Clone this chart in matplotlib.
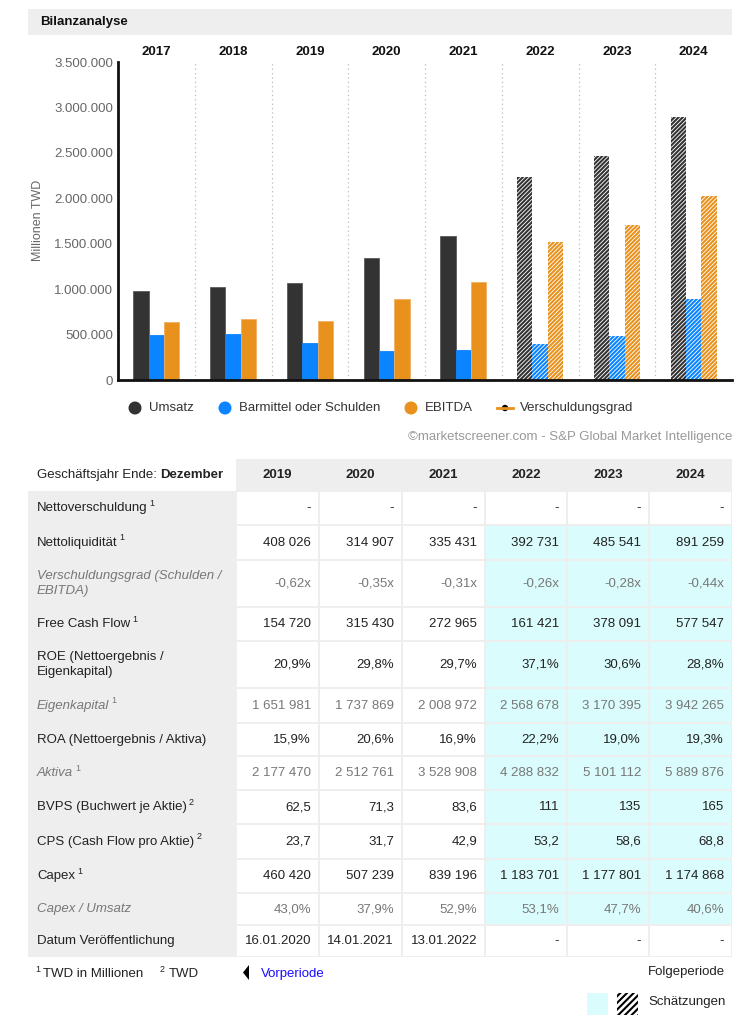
import matplotlib.pyplot as plt
from matplotlib.patches import Rectangle, Polygon, Circle
from matplotlib.lines import Line2D

plt.rcParams['font.family'] = ['Liberation Sans', 'DejaVu Sans']
plt.rcParams['hatch.linewidth'] = 1.5

# chart data (Millionen TWD)
years = ["2017", "2018", "2019", "2020", "2021", "2022", "2023", "2024"]
umsatz = [980000, 1020000, 1070000, 1339000, 1587000, 2229000, 2469000, 2894000]
barmittel = [490000, 503000, 408026, 314907, 335431, 392731, 485541, 891259]
ebitda = [635000, 671000, 650000, 891000, 1075000, 1515000, 1710000, 2030000]
estimate = [False, False, False, False, False, True, True, True]

# table data
tab_years = ["2019", "2020", "2021", "2022", "2023", "2024"]
tab_estimate = [False, False, False, True, True, True]
row_labels = ["Nettoverschuldung", "Nettoliquidität",
              "Verschuldungsgrad (Schulden /\nEBITDA)", "Free Cash Flow",
              "ROE (Nettoergebnis /\nEigenkapital)", "Eigenkapital",
              "ROA (Nettoergebnis / Aktiva)", "Aktiva",
              "BVPS (Buchwert je Aktie)", "CPS (Cash Flow pro Aktie)",
              "Capex", "Capex / Umsatz", "Datum Veröffentlichung"]
row_notes = ["1", "1", "", "1", "", "1", "", "1", "2", "2", "1", "", ""]
row_italic = [False, False, True, False, False, True, False, True, False, False, False, True, False]
row_values = [
    ["-", "-", "-", "-", "-", "-"],
    ["408 026", "314 907", "335 431", "392 731", "485 541", "891 259"],
    ["-0,62x", "-0,35x", "-0,31x", "-0,26x", "-0,28x", "-0,44x"],
    ["154 720", "315 430", "272 965", "161 421", "378 091", "577 547"],
    ["20,9%", "29,8%", "29,7%", "37,1%", "30,6%", "28,8%"],
    ["1 651 981", "1 737 869", "2 008 972", "2 568 678", "3 170 395", "3 942 265"],
    ["15,9%", "20,6%", "16,9%", "22,2%", "19,0%", "19,3%"],
    ["2 177 470", "2 512 761", "3 528 908", "4 288 832", "5 101 112", "5 889 876"],
    ["62,5", "71,3", "83,6", "111", "135", "165"],
    ["23,7", "31,7", "42,9", "53,2", "58,6", "68,8"],
    ["460 420", "507 239", "839 196", "1 183 701", "1 177 801", "1 174 868"],
    ["43,0%", "37,9%", "52,9%", "53,1%", "47,7%", "40,6%"],
    ["16.01.2020", "14.01.2021", "13.01.2022", "-", "-", "-"],
]
row_edges = [491, 525, 560, 607, 641, 688, 723, 756, 790, 824, 859, 893, 925, 957]
col_edges = [236, 319, 402, 485, 567, 649, 732]

DARK = "#333333"
BLUE = "#0a84ff"
ORANGE = "#e8911c"
CYAN = "#dafcfc"
GREY_BG = "#eeeeee"
FS = 9.5

W, H = 742, 1021
fig = plt.figure(figsize=(W / 100, H / 100), dpi=100)
bg = fig.add_axes([0, 0, 1, 1])
bg.set_xlim(0, W)
bg.set_ylim(H, 0)
bg.axis("off")
renderer = fig.canvas.get_renderer()

# title bar
bg.add_patch(Rectangle((28, 9), 704, 26, color=GREY_BG, lw=0))
bg.text(40, 22, "Bilanzanalyse", fontsize=FS, fontweight="bold", va="center", color="#111")

# bar chart
ax = fig.add_axes([118 / W, (H - 380) / H, 614 / W, 318 / H])
ax.set_zorder(2)
ax.patch.set_alpha(0)
x = list(range(len(years)))
bw = 0.2
for series, off, col, ec in [(umsatz, -bw, DARK, "#5a5a5a"),
                             (barmittel, 0, BLUE, BLUE),
                             (ebitda, bw, ORANGE, "#f0b060")]:
    for i, v in enumerate(series):
        if estimate[i]:
            ax.bar(x[i] + off, v, bw, facecolor="white", edgecolor=col,
                   hatch="////////", linewidth=0)
        else:
            ax.bar(x[i] + off, v, bw, color=col, edgecolor=ec, linewidth=0.6)
for i in range(len(years) - 1):
    ax.axvline(i + 0.5, color="#bbbbbb", lw=0.9, ls=(0, (1, 2.5)))
ax.set_xlim(-0.5, len(years) - 0.5)
ax.set_ylim(0, 3500000)
ax.set_yticks(range(0, 3500001, 500000))
ax.set_yticklabels([f"{v:,}".replace(",", ".") if v else "0" for v in range(0, 3500001, 500000)])
ax.xaxis.tick_top()
ax.set_xticks(x)
ax.set_xticklabels(years, fontweight="bold", fontsize=9.5, color="#111")
ax.tick_params(axis="x", length=0, pad=3)
ax.tick_params(axis="y", length=0, pad=3.5, labelsize=9.5, labelcolor="#666")
for s in ["top", "right"]:
    ax.spines[s].set_visible(False)
for s in ["left", "bottom"]:
    ax.spines[s].set_linewidth(2)
    ax.spines[s].set_color("#111")
bg.text(38, 220, "Millionen TWD", rotation=90, fontsize=9, color="#666",
        ha="center", va="center")

# legend
for cx, col, lab in [(135, DARK, "Umsatz"), (225, BLUE, "Barmittel oder Schulden"),
                     (411, ORANGE, "EBITDA")]:
    bg.add_patch(Circle((cx, 408), 6.5, color=col, lw=0))
    bg.text(cx + 14, 408, lab, fontsize=9.5, va="center", color="#333")
bg.add_line(Line2D([497, 513], [408, 408], color=ORANGE, lw=2))
bg.add_patch(Circle((505, 408), 3.2, color="black", lw=0))
bg.text(520, 408, "Verschuldungsgrad", fontsize=9.5, va="center", color="#333")
bg.text(732, 437, "©marketscreener.com - S&P Global Market Intelligence",
        fontsize=9.5, ha="right", va="center", color="#999")

# table header
bg.add_patch(Rectangle((236, 459), 496, 32, color=GREY_BG, lw=0))
t = bg.text(37, 475, "Geschäftsjahr Ende: ", fontsize=FS, va="center", color="#222")
x1 = t.get_window_extent(renderer).x1
bg.text(x1, 475, "Dezember", fontsize=FS, fontweight="bold", va="center", color="#222")
for j, yr in enumerate(tab_years):
    bg.text((col_edges[j] + col_edges[j + 1]) / 2, 475, yr, fontsize=FS,
            fontweight="bold", ha="center", va="center", color="#222")

# table body
bg.add_patch(Rectangle((28, row_edges[0]), 704, row_edges[-1] - row_edges[0], color=GREY_BG, lw=0))
for r, lab in enumerate(row_labels):
    y0, y1 = row_edges[r], row_edges[r + 1]
    yc = (y0 + y1) / 2
    for j in range(len(tab_years)):
        cyan = tab_estimate[j] and 0 < r < len(row_labels) - 1
        bg.add_patch(Rectangle((col_edges[j] + 1, y0 + 1), col_edges[j + 1] - col_edges[j] - 2,
                               y1 - y0 - 2, color=CYAN if cyan else "white", lw=0))
        bg.text(col_edges[j + 1] - 8, yc, row_values[r][j], fontsize=FS, ha="right",
                va="center", color="#777" if row_italic[r] else "#222")
    t = bg.text(37, yc, lab, fontsize=FS, va="center", linespacing=1.25,
                style="italic" if row_italic[r] else "normal",
                color="#777" if row_italic[r] else "#222")
    if row_notes[r]:
        x1 = t.get_window_extent(renderer).x1
        bg.text(x1 + 2, yc - 5, row_notes[r], fontsize=6.5, va="center",
                color="#777" if row_italic[r] else "#222")

# footnotes
bg.text(35, 969, "1", fontsize=6.5, va="center", color="#222")
bg.text(43, 974, "TWD in Millionen", fontsize=FS, va="center", color="#222")
bg.text(160, 969, "2", fontsize=6.5, va="center", color="#222")
bg.text(169, 974, "TWD", fontsize=FS, va="center", color="#222")
bg.add_patch(Polygon([[249, 965], [249, 980], [243, 972.5]], color="black", lw=0))
bg.text(261, 974, "Vorperiode", fontsize=FS, va="center", color="#1a0dff")
bg.text(725, 972, "Folgeperiode", fontsize=FS, ha="right", va="center", color="#222")
bg.add_patch(Rectangle((587, 993), 21, 22, color=CYAN, lw=0))
bg.add_patch(Rectangle((617, 993), 21, 22, facecolor="white", edgecolor="black",
                       hatch="/////", lw=0))
bg.text(648, 1002, "Schätzungen", fontsize=FS, va="center", color="#222")

fig.savefig("out.png", dpi=100)
